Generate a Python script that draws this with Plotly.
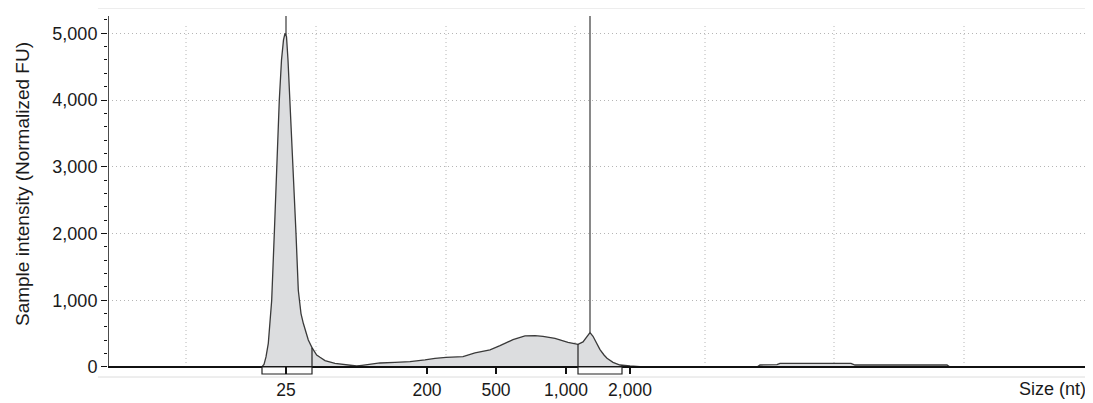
import numpy as np
import plotly.graph_objects as go

# Migration position (lane units) and sample intensity (Normalized FU)
position = [108, 180, 230, 258, 262, 264, 266, 268.3, 270, 271.7, 274.3, 276.7, 279.3,
            281.5, 283.5, 285, 286.5, 288, 290, 293.3, 296, 298.3, 299.5, 301, 303.3,
            306, 308.3, 312, 316.7, 320, 325, 335, 346.7, 356.7, 362, 370, 380, 395,
            410, 425, 435, 446, 463, 475, 490, 500, 513, 525, 535, 543, 555, 568, 578,
            583, 587, 590, 593, 597, 600, 604, 607, 613, 620, 630, 640, 700, 757, 760,
            777, 780, 851, 855, 947, 950, 1000, 1090]
intensity = [0, 0, 0, 0, 5, 40, 150, 355, 650, 1000, 2000, 3000, 4000,
             4600, 4900, 5000, 4950, 4600, 4000, 3000, 2000, 1150, 950, 800, 655,
             510, 405, 290, 180, 145, 95, 55, 30, 15, 25, 40, 60, 70,
             80, 105, 130, 145, 155, 210, 255, 320, 410, 465, 470, 460, 430, 370, 340,
             375, 450, 515, 460, 350, 260, 180, 130, 70, 30, 15, 5, 0, 0, 30,
             35, 55, 55, 30, 30, 0, 0, 0]

# Size ladder: tick labels and their migration positions
size_labels = ["25", "200", "500", "1,000", "2,000"]
size_pos = [286, 427, 496, 566, 630]

# Vertical grid positions
grid_pos = [186, 316, 446, 575, 705, 834, 964]

# Peak markers and integration regions
marker_pos = [286, 590]
region_start = [262, 578]
region_end = [312, 622]

X_MIN, X_MAX = 108, 1093
Y_MIN, Y_MAX = -150, 5379
Y_TOP = 5260
BRACKET = -105

LINE = "#3a3a3a"
FILL = "#dcdddf"
GRID = "#b5b5b5"
DOTS = "1px,3px"

fig = go.Figure()
fig.add_trace(go.Scatter(
    x=position, y=intensity, mode="lines",
    line=dict(color=LINE, width=1.3),
    fill="tozeroy", fillcolor=FILL, hoverinfo="skip", showlegend=False,
))

shapes = []
# vertical dotted grid
for g in grid_pos:
    shapes.append(dict(type="line", xref="x", yref="y", x0=g, x1=g, y0=0, y1=Y_TOP - 130,
                       line=dict(color=GRID, width=1, dash=DOTS), layer="below"))
# baseline
shapes.append(dict(type="line", xref="x", yref="y", x0=X_MIN, x1=X_MAX, y0=0, y1=0,
                   line=dict(color="#111111", width=2)))
# y axis line
shapes.append(dict(type="line", xref="x", yref="y", x0=X_MIN, x1=X_MIN, y0=0, y1=Y_TOP,
                   line=dict(color="#111111", width=1.5)))
# peak marker lines
for m in marker_pos:
    top_val = float(np.interp(m, position, intensity))
    shapes.append(dict(type="line", xref="x", yref="y", x0=m, x1=m, y0=top_val, y1=Y_TOP,
                       line=dict(color=LINE, width=1.2)))
# region brackets
for s, e in zip(region_start, region_end):
    shapes.append(dict(type="rect", xref="x", yref="y", x0=s, x1=e, y0=BRACKET, y1=0,
                       fillcolor="white", line=dict(color="#222222", width=1.2)))
    for edge in (s, e):
        v = float(np.interp(edge, position, intensity))
        if v > 20:
            shapes.append(dict(type="line", xref="x", yref="y", x0=edge, x1=edge, y0=0, y1=v,
                               line=dict(color="#222222", width=1.2)))
# size tick marks
for p in size_pos:
    shapes.append(dict(type="line", xref="x", yref="y", x0=p, x1=p, y0=BRACKET, y1=0,
                       line=dict(color="#111111", width=2)))
# light frame lines (top and bottom)
for yy in (0, 1):
    shapes.append(dict(type="line", xref="paper", yref="paper", x0=-0.0102, x1=1, y0=yy, y1=yy,
                       line=dict(color="#dcdcdc", width=1)))

FONT = "Liberation Sans, Arial, Helvetica, sans-serif"

# the page body has an 8px margin, so the figure is 8px smaller than the window
fig.update_layout(
    width=1085, height=395,
    margin=dict(l=100, r=0, t=0, b=26),
    paper_bgcolor="white", plot_bgcolor="white",
    font=dict(family=FONT, size=18, color="#1a1a1a"),
    shapes=shapes,
    showlegend=False,
    xaxis=dict(range=[X_MIN, X_MAX], tickvals=size_pos, ticktext=size_labels,
               showgrid=False, zeroline=False, showline=False, ticks="",
               tickfont=dict(size=17.5)),
    yaxis=dict(range=[Y_MIN, Y_MAX], tickvals=[0, 1000, 2000, 3000, 4000, 5000],
               tickformat=",", showgrid=True, gridcolor=GRID, griddash=DOTS, gridwidth=1,
               zeroline=False, showline=False, ticks="outside", ticklen=6, tickwidth=1.3,
               tickcolor="#111111", tickfont=dict(size=18),
               minor=dict(tickvals=[v for v in range(200, 5300, 200) if v % 1000],
                          ticks="outside", ticklen=3, tickcolor="#111111", showgrid=False)),
    annotations=[
        dict(text="Sample intensity (Normalized FU)", textangle=-90, xref="paper", yref="paper",
             x=-0.0873, y=0.523, xanchor="center", yanchor="middle", showarrow=False,
             font=dict(size=19)),
        dict(text="Size (nt)", xref="paper", yref="paper", x=0.995, y=-0.0325,
             xanchor="right", yanchor="middle", showarrow=False, font=dict(size=18)),
    ],
)

fig.write_html("out.html")
